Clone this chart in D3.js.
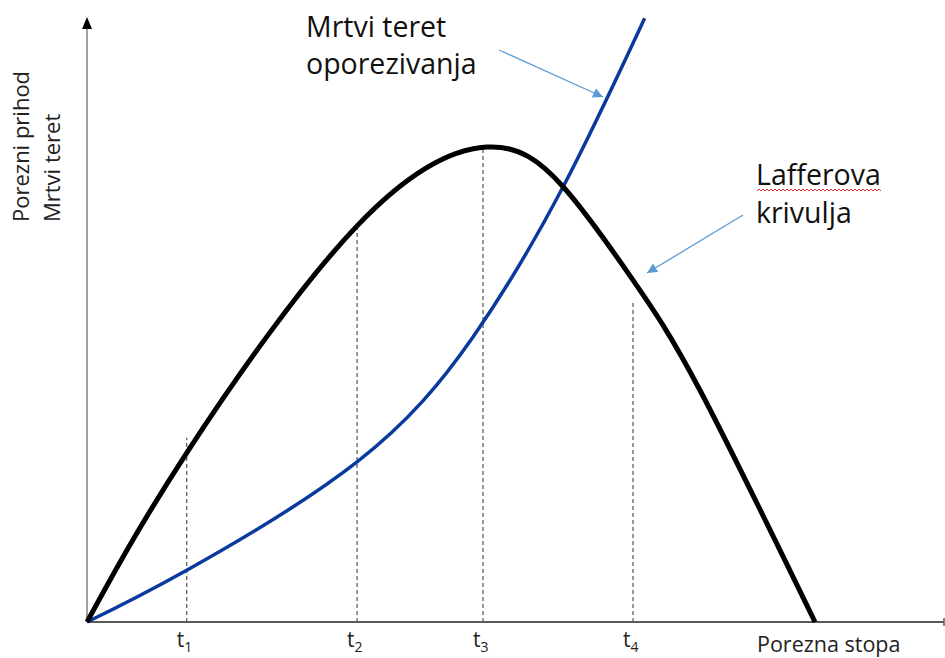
<!DOCTYPE html>
<html><head><meta charset="utf-8">
<script src="https://cdn.jsdelivr.net/npm/d3@7"></script>
<style>
body{margin:0;background:#fff;}
svg{display:block;font-family:"Open Sans","Noto Sans",sans-serif;}
</style></head>
<body><svg id="c" width="945" height="658"></svg>
<script>
// Data (x = tax rate %, y = relative amount)
const lafferX = [0, 13.7, 37.1, 54.9, 65.4, 75, 84.2, 100];
const lafferY = [0, 28.1, 65.8, 78.9, 72.3, 56.8, 38.5, 0];
const deadX = [0, 13.7, 37.1, 53.0, 65.4, 76.6];
const deadY = [0, 8.6, 26.6, 47.3, 72.3, 100.3];
const tLabels = ["1", "2", "3", "4"];
const tX = [13.7, 37.1, 54.4, 75.0];
const tTop = [30.6, 65.6, 79.2, 53.0];

const svg = d3.select("#c");
const x = d3.scaleLinear().domain([0, 100]).range([87, 815]);
const y = d3.scaleLinear().domain([0, 100]).range([622, 20]);

const defs = svg.append("defs");
defs.append("marker").attr("id","ab").attr("viewBox","0 0 10 10").attr("refX",10).attr("refY",5)
  .attr("markerWidth",12).attr("markerHeight",10).attr("markerUnits","userSpaceOnUse").attr("orient","auto")
  .append("path").attr("d","M0,0L10,5L0,10Z").attr("fill","#5b9bd5");

// dashed verticals
svg.selectAll(".dash").data(tX).join("line")
  .attr("x1", d => x(d)).attr("x2", d => x(d))
  .attr("y1", y(0)).attr("y2", (d,i) => y(tTop[i]))
  .attr("stroke", "#555").attr("stroke-width", 1.2).attr("stroke-dasharray", "4,3");

// axes
svg.append("line").attr("x1", x(0)).attr("x2", x(0)).attr("y1", y(0)).attr("y2", 26)
  .attr("stroke", "#7f7f7f").attr("stroke-width", 1.5);
svg.append("path").attr("d", `M${x(0)-5},29L${x(0)},17L${x(0)+5},29Z`).attr("fill", "#000");
svg.append("line").attr("x1", x(0)).attr("x2", 944).attr("y1", y(0)).attr("y2", y(0))
  .attr("stroke", "#595959").attr("stroke-width", 2);
svg.append("line").attr("x1", 944).attr("x2", 944).attr("y1", y(0)-4).attr("y2", y(0)+4)
  .attr("stroke", "#595959").attr("stroke-width", 1.5);

// curves
const line = d3.line().curve(d3.curveNatural);
svg.append("path").attr("d", line(deadX.map((d,i) => [x(d), y(deadY[i])])))
  .attr("fill","none").attr("stroke","#0a3a9e").attr("stroke-width",3.5);
svg.append("path").attr("d", line(lafferX.map((d,i) => [x(d), y(lafferY[i])])))
  .attr("fill","none").attr("stroke","#000").attr("stroke-width",5);

// t labels
const tl = svg.selectAll(".tl").data(tLabels).join("text")
  .attr("x", (d,i) => x(tX[i]) - 10).attr("y", 647)
  .attr("font-size", 21).attr("fill", "#222");
tl.append("tspan").text("t");
tl.append("tspan").attr("font-size", 14).attr("dy", 5).text(d => d);

svg.append("text").attr("x", 757).attr("y", 652).attr("font-size", 21.5).attr("fill","#222").text("Porezna stopa");

// y labels
svg.append("text").attr("transform","translate(29,222) rotate(-90)").attr("font-size",22).attr("fill","#222").text("Porezni prihod");
svg.append("text").attr("transform","translate(60,222) rotate(-90)").attr("font-size",22).attr("fill","#222").text("Mrtvi teret");

// annotations
svg.append("text").attr("x",306).attr("y",37).attr("font-size",28.5).attr("fill","#111").text("Mrtvi teret");
svg.append("text").attr("x",306).attr("y",74).attr("font-size",28.5).attr("fill","#111").text("oporezivanja");
svg.append("text").attr("x",756).attr("y",185).attr("font-size",28.5).attr("fill","#111").text("Lafferova");
svg.append("text").attr("x",756).attr("y",223).attr("font-size",28.5).attr("fill","#111").text("krivulja");

// wavy underline
let wp = "M757,191";
for (let xx = 757; xx < 880; xx += 4) wp += `L${xx+2},189L${xx+4},191`;
svg.append("path").attr("d", wp).attr("fill","none").attr("stroke","#e03030").attr("stroke-width",1);

// arrows
svg.append("line").attr("x1",499).attr("y1",50).attr("x2",603).attr("y2",97)
  .attr("stroke","#5b9bd5").attr("stroke-width",1.3).attr("marker-end","url(#ab)");
svg.append("line").attr("x1",743).attr("y1",215).attr("x2",647).attr("y2",273)
  .attr("stroke","#5b9bd5").attr("stroke-width",1.3).attr("marker-end","url(#ab)");
</script></body></html>
